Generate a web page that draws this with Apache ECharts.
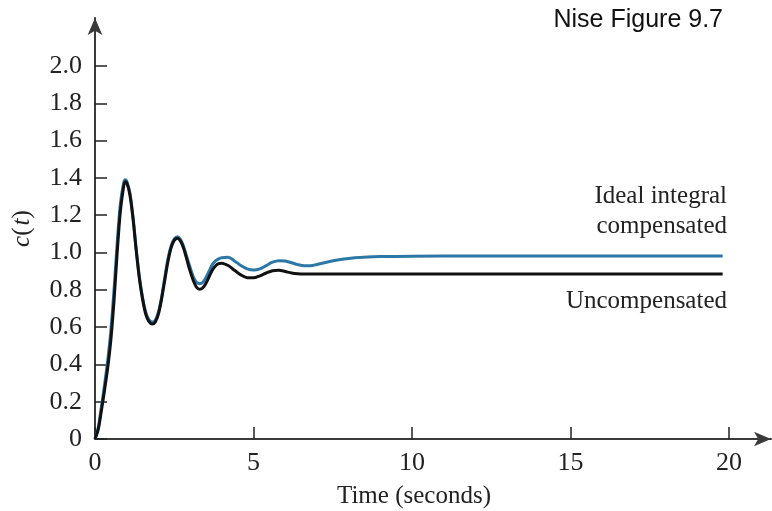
<!DOCTYPE html>
<html>
<head>
<meta charset="utf-8">
<script src="https://cdn.jsdelivr.net/npm/echarts@6/dist/echarts.min.js"></script>
<style>
html,body{margin:0;padding:0;background:#fff;}
#chart{width:772px;height:511px;}
</style>
</head>
<body>
<div id="chart"></div>
<script>
// ---- data ----
const xTicks = [0, 5, 10, 15, 20];
const yTicks = [0, 0.2, 0.4, 0.6, 0.8, 1.0, 1.2, 1.4, 1.6, 1.8, 2.0];

const tUncomp = [0,0.1,0.2,0.3,0.4,0.5,0.6,0.7,0.8,0.9,0.95,1.0,1.1,1.2,1.3,1.4,1.5,1.6,1.7,1.8,1.9,2.0,2.1,2.2,2.3,2.4,2.5,2.6,2.7,2.8,2.9,3.0,3.1,3.2,3.3,3.4,3.5,3.6,3.7,3.8,3.9,4.0,4.2,4.4,4.6,4.8,5.0,5.2,5.4,5.6,5.8,6.0,6.2,6.4,6.6,8,10,12,14,16,18,19.8];
const cUncomp = [0,0.05,0.15,0.26,0.38,0.53,0.74,1.0,1.22,1.35,1.38,1.375,1.31,1.18,1.01,0.86,0.75,0.67,0.63,0.617,0.627,0.67,0.75,0.85,0.95,1.025,1.065,1.077,1.06,1.02,0.96,0.9,0.85,0.815,0.803,0.81,0.835,0.87,0.905,0.928,0.94,0.943,0.93,0.905,0.88,0.865,0.864,0.875,0.89,0.902,0.905,0.898,0.89,0.886,0.885,0.885,0.885,0.885,0.885,0.885,0.885,0.885];

const tComp = [0,0.1,0.2,0.3,0.4,0.5,0.6,0.7,0.8,0.9,0.95,1.0,1.1,1.2,1.3,1.4,1.5,1.6,1.7,1.8,1.9,2.0,2.1,2.2,2.3,2.4,2.5,2.6,2.7,2.8,2.9,3.0,3.1,3.2,3.3,3.4,3.5,3.6,3.7,3.8,3.9,4.0,4.2,4.4,4.6,4.8,5.0,5.2,5.4,5.6,5.8,6.0,6.2,6.4,6.6,6.8,7.0,7.4,7.8,8.2,8.6,9.0,10,12,14,16,18,19.8];
const cComp = [0,0.06,0.17,0.29,0.42,0.58,0.8,1.05,1.26,1.37,1.39,1.382,1.32,1.19,1.02,0.87,0.76,0.68,0.64,0.627,0.637,0.68,0.76,0.865,0.965,1.035,1.073,1.085,1.07,1.03,0.975,0.92,0.87,0.84,0.833,0.84,0.865,0.9,0.935,0.955,0.966,0.972,0.974,0.955,0.93,0.912,0.906,0.912,0.93,0.948,0.956,0.954,0.945,0.935,0.929,0.929,0.936,0.952,0.964,0.972,0.976,0.978,0.98,0.981,0.981,0.981,0.981,0.981];

const seriesNames = ['Ideal integral compensated', 'Uncompensated'];
const titleText = 'Nise Figure 9.7';
const xName = 'Time (seconds)';

// ---- chart ----
const serif = '"Liberation Serif", "Times New Roman", serif';
const sans = '"Liberation Sans", Arial, sans-serif';
const zip = (t, v) => t.map((x, i) => [x, v[i]]);

const chart = echarts.init(document.getElementById('chart'), null, {renderer: 'canvas'});
const axisColor = '#3a3a3a';
chart.setOption({
  animation: false,
  backgroundColor: '#fff',
  grid: {left: 95, right: 1, top: 18, bottom: 72, containLabel: false},
  xAxis: {
    type: 'value', min: 0, max: 21.325,
    splitLine: {show: false},
    axisLine: {lineStyle: {color: axisColor, width: 2}, symbol: ['none', 'arrow'], symbolSize: [11, 17]},
    axisTick: {inside: true, length: 12, customValues: xTicks, lineStyle: {color: '#222', width: 1.5}},
    axisLabel: {customValues: xTicks, margin: 11, color: '#222', fontFamily: serif, fontSize: 26}
  },
  yAxis: {
    type: 'value', min: 0, max: 2.2574,
    splitLine: {show: false},
    axisLine: {lineStyle: {color: axisColor, width: 2}, symbol: ['none', 'arrow'], symbolSize: [11, 17]},
    axisTick: {inside: true, length: 12, customValues: yTicks, lineStyle: {color: '#222', width: 1.5}},
    axisLabel: {customValues: yTicks, margin: 13, color: '#222', fontFamily: serif, fontSize: 26,
      formatter: v => v === 0 ? '0' : v.toFixed(1)},
    name: '{i|c}(\u200a{i|t})',
    nameLocation: 'middle', nameRotate: 90, nameGap: 60,
    nameTextStyle: {fontFamily: serif, fontSize: 25, color: '#222',
      rich: {i: {fontFamily: serif, fontSize: 25, fontStyle: 'italic', color: '#222'}}}
  },
  series: [
    {name: seriesNames[0], type: 'line', data: zip(tComp, cComp), smooth: 0.3, showSymbol: false,
     lineStyle: {color: '#2b77a6', width: 3}, z: 2},
    {name: seriesNames[1], type: 'line', data: zip(tUncomp, cUncomp), smooth: 0.3, showSymbol: false,
     lineStyle: {color: '#111', width: 3}, z: 3}
  ],
  graphic: [
    {type: 'text', x: 723, y: 20, style: {text: titleText, font: '25px ' + sans, fill: '#111', textAlign: 'right', textVerticalAlign: 'middle'}},
    {type: 'text', x: 414, y: 496, style: {text: xName, font: '25px ' + serif, fill: '#222', textAlign: 'center', textVerticalAlign: 'middle'}},
    {type: 'text', x: 727, y: 196, style: {text: 'Ideal integral', font: '25px ' + serif, fill: '#222', textAlign: 'right', textVerticalAlign: 'middle'}},
    {type: 'text', x: 727, y: 226, style: {text: 'compensated', font: '25px ' + serif, fill: '#222', textAlign: 'right', textVerticalAlign: 'middle'}},
    {type: 'text', x: 727, y: 301, style: {text: 'Uncompensated', font: '25px ' + serif, fill: '#222', textAlign: 'right', textVerticalAlign: 'middle'}}
  ]
});
</script>
</body>
</html>
